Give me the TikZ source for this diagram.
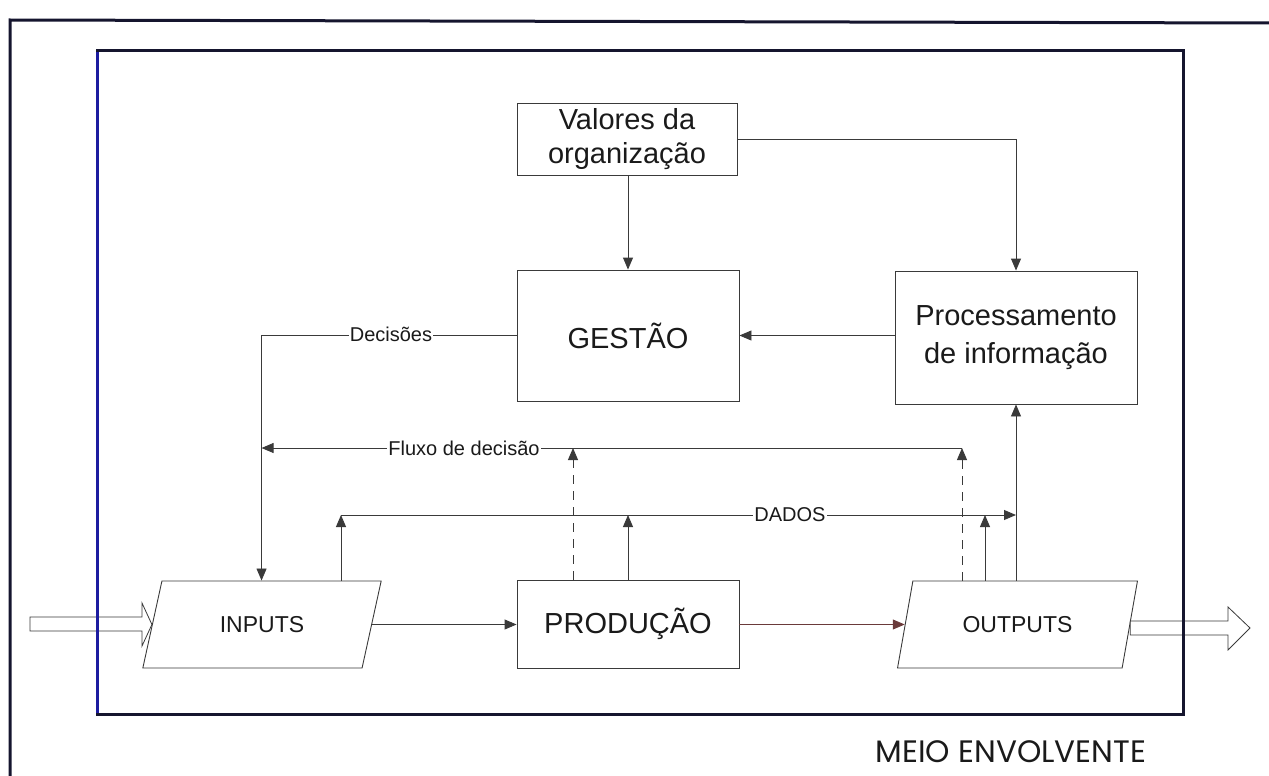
\documentclass[tikz,border=0pt]{standalone}
\usepackage{fontspec}
\setmainfont{Liberation Sans}
\newfontfamily\meiofont{Poppins}
\usetikzlibrary{arrows.meta,shapes.geometric,calc}
\definecolor{linecol}{HTML}{3A3A3A}
\definecolor{txtcol}{HTML}{1A1A1A}
\definecolor{framecol}{HTML}{15152E}
\definecolor{bluecol}{HTML}{1C1CA0}
\definecolor{redline}{HTML}{6A3A3A}
\begin{document}
\begin{tikzpicture}[x=1pt,y=-1pt,
 conn/.style={draw=linecol, line width=0.9pt},
 tip/.style={-{Triangle[length=12pt,width=10pt]}},
 box/.style={draw=linecol, line width=0.9pt, rectangle, inner sep=0pt, align=center, text=txtcol, font=\fontsize{29}{34}\selectfont},
 para/.style={draw=linecol, line width=0.9pt, trapezium, trapezium left angle=63.7, trapezium right angle=116.3, trapezium stretches=true, minimum width=240pt, minimum height=87pt, inner sep=0pt, text=txtcol, font=\fontsize{23}{26}\selectfont},
 lbl/.style={fill=white, inner sep=1pt, text=txtcol, font=\fontsize{20}{22}\selectfont},
 frame/.style={draw=framecol, line width=3pt},
 hollow/.style={draw=linecol, line width=0.8pt, fill=white}
]
\useasboundingbox (0,0) rectangle (1269,776);

% nodes
\node[box, minimum width=220pt, minimum height=72pt] (valores) at (627,139) {Valores da\\organização};
\node[box, minimum width=222pt, minimum height=131pt] (gestao) at (628,335.5) {GESTÃO};
\node[box, minimum width=242pt, minimum height=133pt, font=\fontsize{29}{38}\selectfont] (proc) at (1016,337.5) {Processamento\\de informação};
\node[box, minimum width=222pt, minimum height=88pt] (prod) at (628,624) {PRODUÇÃO};
\node[para] (inputs) at (262,624.5) {INPUTS};
\node[para] (outputs) at (1017.5,624.5) {OUTPUTS};

% hollow arrows (environment in / out)
\draw[hollow] (30,617) -- (142,617) -- (142,603) -- (inputs.west) -- (142,646) -- (142,631) -- (30,631) -- cycle;
\draw[hollow] (outputs.east |- 0,621) -- (1228,621) -- (1228,607) -- (1250,628) -- (1228,650) -- (1228,635) -- (outputs.east |- 0,635) -- cycle;

% connectors
\draw[conn,tip] (gestao.north |- valores.south) -- (gestao.north);
\draw[conn,tip] (valores.east) -| (proc.north);
\draw[conn,tip] (proc.west |- gestao.east) -- (gestao.east);
\draw[conn,tip] (gestao.west) -- ++(-255,0) coordinate (dcorner) -- (dcorner |- inputs.north);

\coordinate (f1) at (573,448);
\coordinate (f2) at (962,448);
\draw[conn,tip] (f2) -- (dcorner |- f2);
\draw[conn,tip,dash pattern=on 9pt off 7pt] (f1 |- prod.north) -- (f1);
\draw[conn,tip,dash pattern=on 9pt off 7pt] (f2 |- outputs.north) -- (f2);

\coordinate (d1) at (341,515);
\coordinate (d3) at (985,515);
\draw[conn,tip] (d1 |- inputs.north) -- (d1);
\draw[conn,tip] (prod.north) -- (prod.north |- d1);
\draw[conn,tip] (d3 |- outputs.north) -- (d3);
\draw[conn,tip] (d1) -- (proc.south |- d1);
\draw[conn,tip] (proc.south |- outputs.north) -- (proc.south);

\draw[conn,tip] (inputs.east) -- (prod.west |- inputs.east);
\draw[conn,tip,draw=redline] (prod.east |- outputs.west) -- (outputs.west);

% labels on lines
\node[lbl] (dec) at (391,334.5) {Decisões};
\node[lbl] (fluxo) at (464,448) {Fluxo de decisão};
\node[lbl] (dados) at (790,515) {DADOS};

% frames
\draw[frame] (97,51) rectangle (1183,714);
\draw[line width=3pt, draw=bluecol] (97,52) -- (97,713);
\draw[frame] (10,776) -- (10,20) -- (1269,23);

\node[text=txtcol, font=\meiofont\fontsize{31}{34}\selectfont] (meio) at (1011,752) {MEIO ENVOLVENTE};
\end{tikzpicture}
\end{document}
